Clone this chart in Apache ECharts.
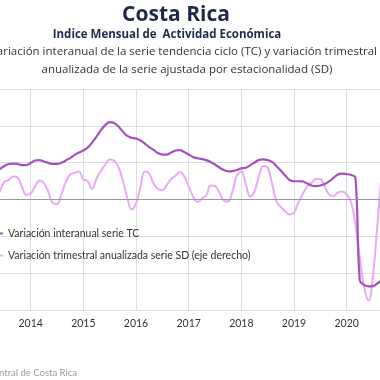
<!DOCTYPE html>
<html><head><meta charset="utf-8">
<script src="https://cdn.jsdelivr.net/npm/echarts@6/dist/echarts.min.js"></script>
<style>html,body{margin:0;padding:0;background:#fff}#c{width:380px;height:380px}</style>
</head><body><div id="c"></div>
<script>
// Monthly observations starting May 2013
const startYear = 2013, startMonth = 5;
const tcValues = [1.52,1.66,1.82,1.93,1.95,1.93,1.87,1.87,
 1.98,2.12,2.14,2.06,1.99,1.93,1.93,1.99,2.12,2.25,2.42,2.55,
 2.66,2.82,3.09,3.42,3.77,4.04,4.20,4.15,3.96,3.69,3.45,3.35,
 3.31,3.20,3.04,2.85,2.69,2.52,2.44,2.44,2.55,2.66,2.68,2.58,
 2.44,2.31,2.24,2.20,2.14,2.04,1.90,1.74,1.60,1.53,1.54,1.60,
 1.69,1.72,1.85,2.01,2.14,2.18,2.14,2.04,1.82,1.57,1.30,1.06,
 0.99,0.99,0.98,0.87,0.76,0.73,0.76,0.84,0.98,1.17,1.36,1.41,
 1.38,1.33,1.19,-4.40,-4.64,-4.72,-4.70,-4.56,-4.34,-4.07];
const sdValues = [0,2.25,4.75,5.29,6.24,5.97,3.53,1.22,
 1.63,3.53,5.16,4.48,2.17,-0.95,-1.22,1.36,4.75,6.79,7.20,7.60,
 5.43,5.02,2.85,5.70,7.74,9.50,10.86,10.59,8.82,5.16,0.54,-2.72,
 -1.09,3.26,7.60,7.06,4.34,2.85,2.58,3.94,5.57,6.43,7.47,6.24,
 3.53,0.81,-0.68,0.27,1.09,3.80,3.67,1.90,-0.27,-0.54,2.31,6.52,
 7.60,4.34,0.81,2.17,6.24,9.10,8.69,4.34,-0.54,-2.04,-3.18,-4.07,
 -3.53,-0.81,1.49,3.53,4.53,5.57,5.57,3.53,1.36,0.95,1.90,2.17,
 1.36,-0.68,-6.79,-15.75,-23.89,-27.42,-20.64,-7.06,6.79,13.58];
const yearTicks = [2013,2014,2015,2016,2017,2018,2019,2020,2021];
const seriesNames = ['Variación interanual serie TC','Variación trimestral anualizada serie SD (eje derecho)'];

const months = tcValues.map((_, i) => {
  const t = (startMonth - 1) + i;
  return (startYear + Math.floor(t / 12)) + '-' + String(t % 12 + 1).padStart(2, '0');
});
const toYear = s => { const [y, m] = s.split('-').map(Number); return y + (m - 1) / 12; };
const tcData = months.map((m, i) => [toYear(m), tcValues[i]]);
const sdData = months.map((m, i) => [toYear(m), sdValues[i]]);

const FONT = '"Open Sans", Lato, sans-serif';
const LFONT = 'Lato, "Open Sans", sans-serif';
const chart = echarts.init(document.getElementById('c'), null, {renderer: 'canvas'});
chart.setOption({
  animation: false,
  backgroundColor: '#ffffff',
  graphic: [
    {type:'text', x:176, y:15, style:{text:'Costa Rica', font:'bold 21px '+FONT, fill:'#1e2a48', textAlign:'center', textVerticalAlign:'middle'}},
    {type:'text', x:167, y:35, style:{text:'Indice Mensual de  Actividad Económica', font:'bold 11.5px '+FONT, fill:'#1e2a48', textAlign:'center', textVerticalAlign:'middle'}},
    {type:'text', x:377, y:52, style:{text:'Variación interanual de la serie tendencia ciclo (TC) y variación trimestral', font:'11.5px '+FONT, fill:'#333', textAlign:'right', textVerticalAlign:'middle'}},
    {type:'text', x:187, y:70, style:{text:'anualizada de la serie ajustada por estacionalidad (SD)', font:'11.5px '+FONT, fill:'#333', textAlign:'center', textVerticalAlign:'middle'}},
    {type:'text', x:77, y:373, style:{text:'Fuente: Banco Central de Costa Rica', font:'9.5px '+LFONT, fill:'#9a9a9a', textAlign:'right', textVerticalAlign:'middle'}}
  ],
  legend: {
    orient: 'vertical', left: -22, top: 223,
    icon: 'rect', itemWidth: 20, itemHeight: 2, itemGap: 11,
    textStyle: {fontFamily: LFONT, fontSize: 10.5, color: '#333'},
    data: seriesNames
  },
  grid: {left: -22, right: -19.3, top: 89, bottom: 70, containLabel: false, outerBoundsMode: 'none'},
  xAxis: {
    type: 'value', min: yearTicks[0], max: yearTicks[yearTicks.length-1], interval: 1,
    axisLine: {show: false}, axisTick: {show: false},
    axisLabel: {fontFamily: LFONT, fontSize: 10.5, color: '#333', margin: 8, formatter: v => String(v)},
    splitLine: {show: true, lineStyle: {color: '#dddddd', width: 1}}
  },
  yAxis: [
    {type:'value', min:-6, max:6, interval:2, axisLabel:{show:false}, axisLine:{show:false}, axisTick:{show:false},
     splitLine:{show:true, lineStyle:{color:'#dddddd', width:1}}},
    {type:'value', min:-30, max:30, interval:10, axisLabel:{show:false}, axisLine:{show:false}, axisTick:{show:false},
     splitLine:{show:false}}
  ],
  series: [
    {name: seriesNames[0], type:'line', yAxisIndex:0, data: tcData, smooth: 0.4, showSymbol:false,
     lineStyle:{color:'#a650bd', width:2.2}, itemStyle:{color:'#a650bd'}, z:3,
     markLine:{silent:true, symbol:'none', label:{show:false}, lineStyle:{color:'#999', type:'solid', width:1}, data:[{yAxis:0}]}},
    {name: seriesNames[1], type:'line', yAxisIndex:1, data: sdData, smooth: 0.4, showSymbol:false,
     lineStyle:{color:'#e9a9f7', width:2}, itemStyle:{color:'#e9a9f7'}, z:2}
  ]
});
</script></body></html>
